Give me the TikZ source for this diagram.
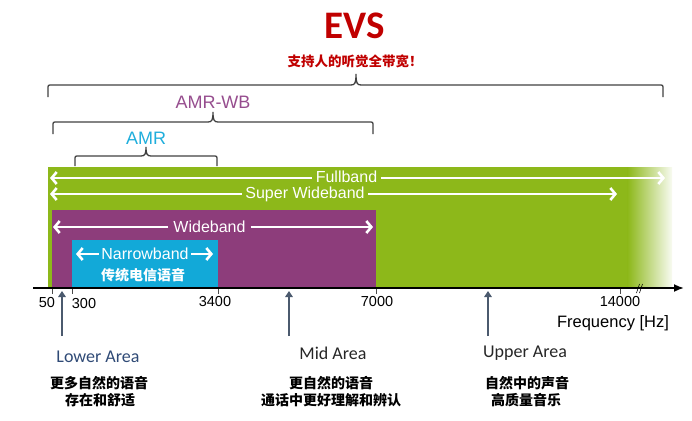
\documentclass[tikz,border=0pt]{standalone}
\usepackage{fontspec}
\setmainfont{Liberation Sans}
\newfontfamily\calfont{Carlito}
\newfontfamily\cjk{Noto Sans CJK SC}
\usetikzlibrary{arrows.meta}
\definecolor{evsred}{HTML}{C00000}
\definecolor{fbgreen}{HTML}{8DB81A}
\definecolor{wbpurple}{HTML}{8D3D7B}
\definecolor{nbcyan}{HTML}{12A9D8}
\definecolor{amrcyan}{HTML}{1FAEDC}
\definecolor{amrwbpurple}{HTML}{964D8E}
\definecolor{bracegray}{HTML}{404040}
\definecolor{slate}{HTML}{4B5A6E}
\definecolor{lowerblue}{HTML}{2F4A76}
\definecolor{darktext}{HTML}{262626}
\newcommand\bracepath[6]{%
  \draw[bracestyle] (#1,#4) -- (#1,#5+4) .. controls (#1,#5) .. (#1+4,#5) -- (#3-5,#5)
    .. controls (#3-1,#5) and (#3,#5-2) .. (#3,#6)
    .. controls (#3,#5-2) and (#3+1,#5) .. (#3+5,#5) -- (#2-4,#5)
    .. controls (#2,#5) .. (#2,#5+4) -- (#2,#4);}
\tikzset{
  bracestyle/.style={bracegray, line width=1.3pt},
  bandarrow/.style={white, line width=2.6pt, -{Straight Barb[length=5pt,width=12pt]}},
  bandlabel/.style={text=white, font=\fontsize{16}{18}\selectfont, inner xsep=3.5pt, inner ysep=0pt},
  ticklabel/.style={text=black, font=\fontsize{14.5}{16}\selectfont, inner sep=0pt},
  tickmark/.style={black!70, line width=0.6pt},
  uparrow/.style={slate, line width=2.4pt, -{Triangle[length=6pt,width=7.5pt]}},
  arealabel/.style={font=\calfont\fontsize{18}{20}\selectfont, inner sep=0pt},
  cjkline/.style={font=\cjk\bfseries\fontsize{14}{16}\selectfont, text=black, inner sep=0pt},
}
\begin{document}
\begin{tikzpicture}[x=1pt,y=-1pt]
\useasboundingbox (0,0) rectangle (692,420);
% title
\node[text=evsred, font=\calfont\bfseries\fontsize{39}{40}\selectfont, inner sep=0pt] (title) at (355,26) {EVS};
\node[text=evsred, font=\cjk\bfseries\fontsize{13.5}{15}\selectfont, inner sep=0pt] (subtitle) at (355,61) {支持人的听觉全带宽！};
% braces
\bracepath{48}{663}{356}{97}{85}{74}
\node[text=amrwbpurple, font=\fontsize{18}{20}\selectfont, inner sep=0pt] (amrwb) at (213,102) {AMR-WB};
\bracepath{53}{373}{213}{134}{122}{112}
\node[text=amrcyan, font=\fontsize{18}{20}\selectfont, inner sep=0pt] (amr) at (146,138) {AMR};
\bracepath{75}{217}{146}{166}{156}{147}
% bands
\fill[fbgreen] (48,167) rectangle (628,288);
\shade[left color=fbgreen, right color=fbgreen!6] (627.5,167) rectangle (672,288);
\fill[wbpurple] (52,210) rectangle (376,288);
\fill[nbcyan] (72,240) rectangle (218,288);
% band arrows
\node[bandlabel, text depth=0pt] (fbt) at (346.5,177) {Fullband};
\coordinate (fbL) at (50,178); \coordinate (fbR) at (665,178);
\draw[bandarrow] (fbt.west |- fbL) -- (fbL);
\draw[bandarrow] (fbt.east |- fbR) -- (fbR);
\node[bandlabel] (swbt) at (305,194.5) {Super Wideband};
\coordinate (swbL) at (50,194); \coordinate (swbR) at (617,194);
\draw[bandarrow] (swbt.west |- swbL) -- (swbL);
\draw[bandarrow] (swbt.east |- swbR) -- (swbR);
\node[bandlabel, inner xsep=5pt] (wbt) at (209.5,227) {Wideband};
\coordinate (wbL) at (53,227); \coordinate (wbR) at (373,227);
\draw[bandarrow] (wbt.west) -- (wbL);
\draw[bandarrow] (wbt.east) -- (wbR);
\node[bandlabel, inner xsep=2.5pt] (nbt) at (145,254) {Narrowband};
\coordinate (nbL) at (76,254); \coordinate (nbR) at (213,254);
\draw[bandarrow] (nbt.west) -- (nbL);
\draw[bandarrow] (nbt.east) -- (nbR);
\node[cjkline, text=white] (nbcn) at (143,275) {传统电信语音};
% axis
\coordinate (axL) at (33,288); \coordinate (axR) at (684,288);
\draw[line width=1.8pt, -{Latex[length=10pt,width=8pt]}] (axL) -- (axR);
\foreach \x in {52,72,218,376,620} \draw[tickmark] (\x,289) -- (\x,294);
\draw[black, line width=0.6pt] (636.5,293) -- (639.5,284) (639.5,293) -- (642.5,284);
\node[ticklabel] (t50) at (47,303) {50};
\node[ticklabel] (t300) at (84,304) {300};
\node[ticklabel] (t3400) at (215,302) {3400};
\node[ticklabel] (t7000) at (377,302) {7000};
\node[ticklabel] (t14000) at (620,302) {14000};
\node[font=\fontsize{16.5}{18}\selectfont, inner sep=0pt] (freq) at (613,323) {Frequency [Hz]};
% area arrows
\coordinate (laB) at (62,336); \coordinate (laT) at (62,291);
\coordinate (maB) at (289,336); \coordinate (maT) at (289,291);
\coordinate (uaB) at (488,336); \coordinate (uaT) at (488,291);
\draw[uparrow] (laB) -- (laT);
\draw[uparrow] (maB) -- (maT);
\draw[uparrow] (uaB) -- (uaT);
% area labels
\node[arealabel, text=lowerblue] (lower) at (98,357) {Lower Area};
\node[arealabel, text=darktext] (mid) at (333,353) {Mid Area};
\node[arealabel, text=darktext] (upper) at (525,353) {Upper Area};
\node[cjkline] (l1) at (99,383) {更多自然的语音};
\node[cjkline] (l2) at (100,400) {存在和舒适};
\node[cjkline] (m1) at (331,383) {更自然的语音};
\node[cjkline] (m2) at (331,400) {通话中更好理解和辨认};
\node[cjkline] (u1) at (527,383) {自然中的声音};
\node[cjkline] (u2) at (526,400) {高质量音乐};
\end{tikzpicture}
\end{document}
